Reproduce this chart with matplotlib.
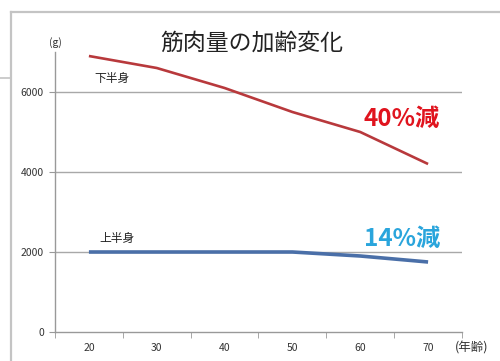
import matplotlib
matplotlib.use('Agg')
import matplotlib.pyplot as plt
from matplotlib.lines import Line2D

plt.rcParams['font.family'] = ['Noto Sans CJK JP', 'DejaVu Sans']

## data
ages = ['20', '30', '40', '50', '60', '70']
lower_body = [6900, 6600, 6100, 5500, 5000, 4200]
upper_body = [2000, 2000, 2000, 2000, 1900, 1750]
y_ticks = [0, 2000, 4000, 6000]

red = '#b8393c'
blue = '#4a6fa8'

fig = plt.figure(figsize=(5, 3.61), dpi=100)
fig.patch.set_facecolor('white')

# outer frame of the slide
frame = '#c4c4c4'
fig.add_artist(Line2D([11/500, 1], [1-12/361, 1-12/361], color=frame, lw=1.6))
fig.add_artist(Line2D([11/500, 11/500], [0, 1-12/361], color=frame, lw=1.6))
fig.add_artist(Line2D([0, 11/500], [1-78/361, 1-78/361], color=frame, lw=1.2))

ax = fig.add_axes([55/500, 1-332/361, (462-55)/500, (332-52)/361])
x = list(range(len(ages)))

ax.plot(x, lower_body, color=red, lw=1.9, solid_capstyle='butt')
ax.plot(x, upper_body, color=blue, lw=2.6, solid_capstyle='butt')

ax.set_xlim(-0.5, len(ages) - 0.5)
ax.set_ylim(0, 7000)
ax.set_yticks(y_ticks)
ax.set_yticklabels([str(v) for v in y_ticks], fontsize=7.5, color='#333333')
ax.set_xticks(x)
ax.set_xticklabels(ages, fontsize=7.5, color='#333333')
ax.set_xticks([i - 0.5 for i in range(len(ages) + 1)], minor=True)
ax.tick_params(axis='x', which='major', length=0, pad=8)
ax.tick_params(axis='x', which='minor', length=4, color='#999999', direction='out')
ax.tick_params(axis='y', length=4, color='#999999', pad=4)

for v in y_ticks[1:]:
    ax.axhline(v, color='#a8a8a8', lw=1.0, zorder=0)

for s in ['top', 'right']:
    ax.spines[s].set_visible(False)
for s in ['left', 'bottom']:
    ax.spines[s].set_color('#999999')
    ax.spines[s].set_linewidth(1.0)

# labels
ax.text(0.08, 6250, '下半身', fontsize=8.5, color='#222222')
ax.text(0.15, 2250, '上半身', fontsize=8.5, color='#222222')
ax.text(4.05, 5150, '40%減', fontsize=17.5, color='#e0141e', fontweight='bold')
ax.text(4.05, 2150, '14%減', fontsize=17.5, color='#2aa5dc', fontweight='bold')

fig.text(252/500, 1-43/361, '筋肉量の加齢変化', fontsize=16.5, ha='center', va='center', color='#222222')
fig.text(55/500, 1-43/361, '(g)', fontsize=7.5, ha='center', va='center', color='#333333')
fig.text(472/500, 1-348/361, '(年齢)', fontsize=9, ha='center', va='center', color='#333333')

fig.savefig('out.png', dpi=100, facecolor='white')
